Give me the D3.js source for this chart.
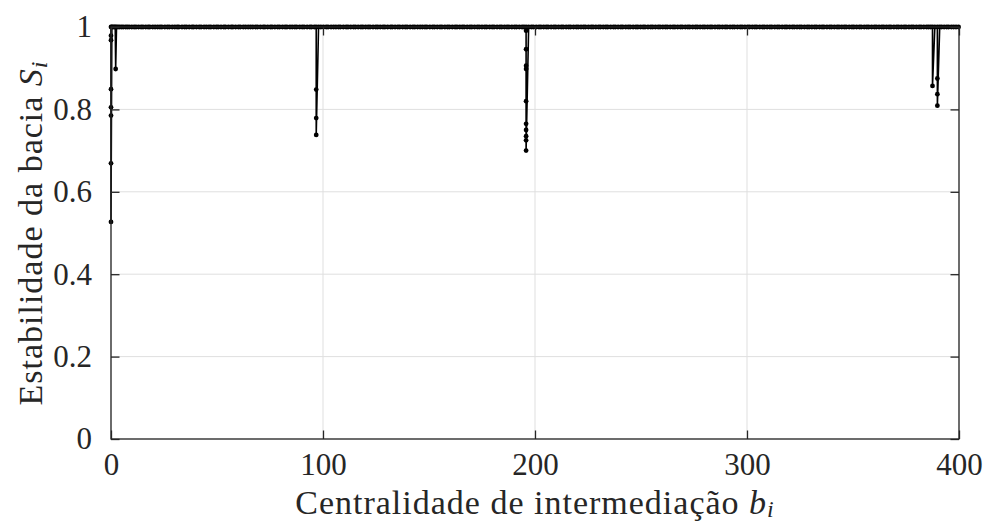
<!doctype html>
<html>
<head>
<meta charset="utf-8">
<script src="https://d3js.org/d3.v7.min.js"></script>
<style>
  body { margin: 0; background: #fff; }
  svg { display: block; }
  .tick text { font-family: "Liberation Serif", "DejaVu Serif", serif; font-size: 31px; fill: #262626; }
  .lab { font-family: "Liberation Serif", "DejaVu Serif", serif; font-size: 34px; letter-spacing: 1px; fill: #262626; }
</style>
</head>
<body>
<svg id="chart" width="985" height="526"></svg>
<script>
// betweenness values of the nodes whose basin stability is 1
var bStable = [0, 0.4, 0.9, 1.5, 2.0, 2.6, 3.3, 4.1, 5.0, 5.8, 6.9, 7.7, 8.6, 9.8, 10.9, 11.8, 13.0, 14.2, 15.1, 16.4,
  17.5, 18.3, 19.7, 20.8, 22.0, 23.1, 24.0, 25.4, 26.6, 27.5, 28.9, 30.1, 31.2, 32.0, 33.5, 34.7, 35.6, 36.9, 38.2, 39.0,
  40.3, 41.6, 42.5, 43.9, 45.0, 46.2, 47.1, 48.5, 49.7, 50.6, 51.9, 53.2, 54.0, 55.4, 56.7, 57.5, 58.8, 60.1, 61.0, 62.4,
  63.5, 64.7, 65.8, 66.9, 68.2, 69.1, 70.5, 71.8, 72.6, 73.9, 75.2, 76.0, 77.3, 78.6, 79.5, 80.9, 82.1, 83.0, 84.4, 85.5,
  86.7, 87.6, 89.0, 90.2, 91.1, 92.5, 93.8, 94.6, 95.9, 96.8, 97.9, 99.0, 100.2, 101.5, 102.4, 103.8, 105.0, 106.1, 107.3, 108.2,
  109.6, 110.9, 111.8, 113.1, 114.4, 115.3, 116.6, 117.9, 118.8, 120.1, 121.3, 122.2, 123.6, 124.9, 125.8, 127.0, 128.3, 129.2, 130.5, 131.9,
  132.7, 134.0, 135.3, 136.2, 137.6, 138.8, 139.7, 141.1, 142.4, 143.3, 144.6, 145.8, 146.9, 148.1, 149.0, 150.4, 151.7, 152.6, 153.9, 155.2,
  156.1, 157.5, 158.7, 159.6, 161.0, 162.3, 163.2, 164.5, 165.7, 166.6, 168.0, 169.3, 170.2, 171.5, 172.8, 173.7, 175.0, 176.3, 177.2, 178.6,
  179.8, 180.7, 182.1, 183.4, 184.3, 185.6, 186.8, 187.7, 189.1, 190.4, 191.3, 192.6, 193.9, 194.8, 195.8, 197.0, 198.3, 199.2, 200.6, 201.9,
  202.8, 204.1, 205.3, 206.2, 207.6, 208.9, 209.8, 211.1, 212.4, 213.3, 214.7, 215.9, 216.8, 218.2, 219.5, 220.4, 221.7, 222.9, 223.8, 225.2,
  226.5, 227.4, 228.7, 230.0, 230.9, 232.2, 233.4, 234.3, 235.7, 237.0, 237.9, 239.2, 240.5, 241.4, 242.8, 244.0, 244.9, 246.3, 247.6, 248.5,
  249.8, 251.0, 251.9, 253.3, 254.6, 255.5, 256.8, 258.1, 259.0, 260.3, 261.5, 262.4, 263.8, 265.1, 266.0, 267.3, 268.6, 269.5, 270.9, 272.1,
  273.0, 274.4, 275.7, 276.6, 277.9, 279.2, 280.1, 281.4, 282.6, 283.5, 284.9, 286.2, 287.1, 288.4, 289.7, 290.6, 292.0, 293.2, 294.1, 295.5,
  296.8, 297.7, 299.0, 300.3, 301.2, 302.5, 303.7, 304.6, 306.0, 307.3, 308.2, 309.5, 310.8, 311.7, 313.1, 314.3, 315.2, 316.6, 317.9, 318.8,
  320.1, 321.4, 322.3, 323.6, 324.8, 325.7, 327.1, 328.4, 329.3, 330.6, 331.9, 332.8, 334.2, 335.4, 336.3, 337.7, 339.0, 339.9, 341.2, 342.5,
  343.4, 344.7, 345.9, 346.8, 348.2, 349.5, 350.4, 351.7, 353.0, 353.9, 355.3, 356.5, 357.4, 358.8, 360.1, 361.0, 362.3, 363.6, 364.5, 365.8,
  367.0, 367.9, 369.3, 370.6, 371.5, 372.8, 374.1, 375.0, 376.4, 377.6, 378.5, 379.9, 381.2, 382.1, 383.4, 384.7, 385.6, 386.6, 387.5, 388.6,
  389.8, 390.9, 391.8, 393.0, 394.2, 395.1, 396.4, 397.5, 398.6, 399.8];

// nodes with basin stability below 1
var bDrop = [0, 0, 0, 0, 0, 0, 0, 2.2,
  96.8, 96.8, 96.8,
  195.8, 195.8, 195.8, 195.8, 195.8, 195.8, 195.8, 195.8, 195.8, 195.8,
  387.5, 389.8, 389.8, 389.8];
var sDrop = [0.979, 0.968, 0.849, 0.805, 0.785, 0.669, 0.527, 0.898,
  0.848, 0.779, 0.738,
  0.991, 0.946, 0.906, 0.898, 0.82, 0.765, 0.75, 0.735, 0.725, 0.70,
  0.857, 0.875, 0.837, 0.809];

var xTicks = [0, 100, 200, 300, 400];
var yTicks = [0, 0.2, 0.4, 0.6, 0.8, 1];

var W = 985, H = 526;
var m = {left: 111, right: 26, top: 27, bottom: 87};
var iw = W - m.left - m.right, ih = H - m.top - m.bottom;

var pts = bStable.map(function(b) { return {b: b, s: 1}; })
  .concat(bDrop.map(function(b, i) { return {b: b, s: sDrop[i]}; }));
pts.sort(function(p, q) { return p.b - q.b || q.s - p.s; });

var x = d3.scaleLinear().domain([0, 400]).range([0, iw]);
var y = d3.scaleLinear().domain([0, 1]).range([ih, 0]);

var svg = d3.select("#chart");
var g = svg.append("g").attr("transform", "translate(" + m.left + "," + m.top + ")");

var axColor = "#262626";

// grid
g.append("g").selectAll("line.gx").data(xTicks).enter().append("line")
  .attr("x1", function(d) { return x(d); }).attr("x2", function(d) { return x(d); })
  .attr("y1", 0).attr("y2", ih).attr("stroke", "#dfdfdf").attr("stroke-width", 1);
g.append("g").selectAll("line.gy").data(yTicks).enter().append("line")
  .attr("y1", function(d) { return y(d); }).attr("y2", function(d) { return y(d); })
  .attr("x1", 0).attr("x2", iw).attr("stroke", "#dfdfdf").attr("stroke-width", 1);

// data
var line = d3.line().x(function(d) { return x(d.b); }).y(function(d) { return y(d.s); });
g.append("path").datum(pts).attr("d", line)
  .attr("fill", "none").attr("stroke", "#000").attr("stroke-width", 1.6);
g.append("g").selectAll("circle").data(pts).enter().append("circle")
  .attr("cx", function(d) { return x(d.b); })
  .attr("cy", function(d) { return y(d.s); })
  .attr("r", 2.4).attr("fill", "#000");

// axes (box with inward ticks on all sides)
var tl = 8.5;
function styleAxis(sel) {
  sel.select(".domain").remove();
  sel.selectAll(".tick line").attr("stroke", axColor).attr("stroke-width", 1.3);
}
g.append("g").attr("transform", "translate(0," + ih + ")")
  .call(d3.axisBottom(x).tickValues(xTicks).tickSize(-tl).tickPadding(14).tickFormat(d3.format("d")))
  .call(styleAxis);
g.append("g")
  .call(d3.axisTop(x).tickValues(xTicks).tickSize(-tl).tickFormat(""))
  .call(styleAxis);
g.append("g")
  .call(d3.axisLeft(y).tickValues(yTicks).tickSize(-tl).tickPadding(19).tickFormat(function(d) { return d3.format("")(d); }))
  .call(styleAxis);
g.append("g").attr("transform", "translate(" + iw + ",0)")
  .call(d3.axisRight(y).tickValues(yTicks).tickSize(-tl).tickFormat(""))
  .call(styleAxis);
g.selectAll(".tick text").attr("fill", axColor);

g.append("rect").attr("x", 0).attr("y", 0).attr("width", iw).attr("height", ih)
  .attr("fill", "none").attr("stroke", axColor).attr("stroke-width", 1.3);

// labels
var xl = svg.append("text").attr("class", "lab")
  .attr("x", m.left + iw / 2).attr("y", 514).attr("text-anchor", "middle");
xl.append("tspan").text("Centralidade de intermediação ");
xl.append("tspan").attr("font-style", "italic").text("b");
xl.append("tspan").attr("font-style", "italic").attr("font-size", "24px").attr("dy", 3).text("i");

var yl = svg.append("text").attr("class", "lab")
  .attr("transform", "translate(42," + (m.top + ih / 2) + ") rotate(-90)")
  .attr("text-anchor", "middle");
yl.append("tspan").text("Estabilidade da bacia ");
yl.append("tspan").attr("font-style", "italic").text("S");
yl.append("tspan").attr("font-style", "italic").attr("font-size", "24px").attr("dy", 5).text("i");
</script>
</body>
</html>
